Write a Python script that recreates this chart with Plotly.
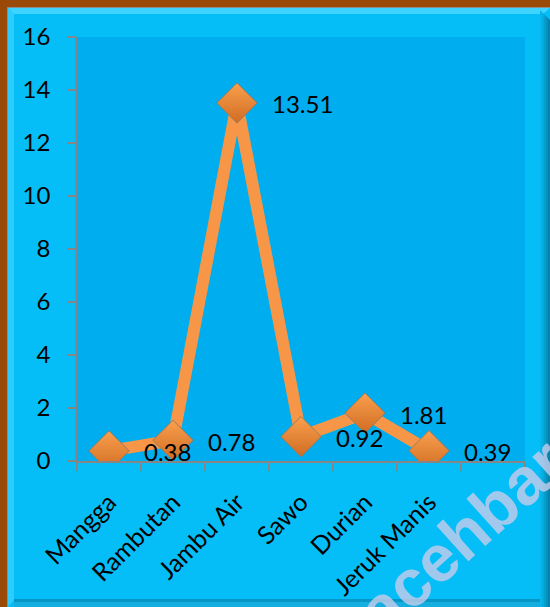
import plotly.graph_objects as go

# Data
categories = ["Mangga", "Rambutan", "Jambu Air", "Sawo", "Durian", "Jeruk Manis"]
values = [0.38, 0.78, 13.51, 0.92, 1.81, 0.39]
y_ticks = [0, 2, 4, 6, 8, 10, 12, 14, 16]
watermark = "acehbaraya"

# Geometry (pixels)
W, H = 550, 607
L, R, T, B = 77, 25, 37, 146
PW, PH = W - L - R, H - T - B


def px(x):
    return (x - L) / PW


def py(y):
    return (T + PH - y) / PH


def poly(points, color):
    d = "M " + " L ".join(f"{px(x):.5f},{py(y):.5f}" for x, y in points) + " Z"
    return dict(type="path", xref="paper", yref="paper", path=d,
                fillcolor=color, line=dict(width=0), layer="below")


def rect(x0, y0, x1, y1, color):
    return dict(type="rect", xref="paper", yref="paper",
                x0=px(x0), x1=px(x1), y0=py(y1), y1=py(y0),
                fillcolor=color, line=dict(width=0), layer="below")


shapes = [
    rect(7, 7, W + 5, H + 5, "#8c8c8c"),
    rect(8, 8, W + 5, H + 5, "#06bef7"),
    poly([(8, 8), (W, 8), (W - 7, 14), (14, 14)], "#3fd4ff"),
    poly([(8, 8), (14, 14), (14, H - 7), (8, H)], "#2cccff"),
]
# darker bevel on the right edge
right_cols = ["#05b6ee", "#04acdf", "#049fcf", "#0590bd", "#0681aa"]
for i, c in enumerate(right_cols):
    x0 = 540 + 2 * i
    shapes.append(poly([(x0, 8 + (x0 - 538)), (x0 + 2, 8 + (x0 - 536)),
                        (x0 + 2, H), (x0, H)], c))
# bottom edge
shapes.append(rect(14, 599, 540, 602, "#0796c6"))
shapes.append(rect(14, 602, 540, H + 5, "#14aee0"))
# plot area
shapes.append(rect(L, T, L + PW, T + PH, "#00adee"))

x_idx = list(range(len(categories)))

fig = go.Figure()
fig.add_trace(go.Scatter(
    x=x_idx, y=values, mode="lines+markers",
    line=dict(color="#f79646", width=12),
    marker=dict(symbol="diamond", size=31, color="#f9a04e",
                gradient=dict(type="vertical", color="#d06c22"),
                line=dict(color="#9a7a60", width=1)),
    hoverinfo="skip", showlegend=False,
))

annotations = []
for i, v in zip(x_idx, values):
    annotations.append(dict(
        x=i, y=v, xref="x", yref="y", text=f"{v:.2f}", showarrow=False,
        xanchor="left", yanchor="middle", xshift=33, yshift=-1,
        font=dict(family="Lato", size=24, color="#000000"),
    ))
annotations.append(dict(
    x=px(503), y=py(499), xref="paper", yref="paper", text=f"<b>{watermark}</b>",
    showarrow=False, textangle=-42, xanchor="center", yanchor="middle",
    font=dict(family="Arial", size=66, color="rgba(200,204,234,0.8)"),
))

axis_grey = "#868686"
fig.update_layout(
    width=W, height=H,
    margin=dict(l=L, r=R, t=T, b=B, pad=0),
    paper_bgcolor="#9a4a06",
    plot_bgcolor="rgba(0,0,0,0)",
    shapes=shapes,
    annotations=annotations,
    font=dict(family="Lato", color="#000000"),
    xaxis=dict(
        range=[-0.5, len(categories) + 0.5],
        tickmode="array", tickvals=x_idx, ticktext=categories,
        tickangle=-45, ticks="outside", ticklen=0, ticklabelstandoff=15,
        tickfont=dict(family="Lato", size=25, color="#000000"),
        minor=dict(tick0=-0.5, dtick=1, ticks="outside", ticklen=8,
                   tickcolor=axis_grey, tickwidth=1.5, showgrid=False),
        showline=True, linecolor=axis_grey, linewidth=1.5,
        showgrid=False, zeroline=False, automargin=False, fixedrange=True,
    ),
    yaxis=dict(
        range=[0, 16], tickmode="array", tickvals=y_ticks,
        ticks="outside", ticklen=8, tickcolor=axis_grey, tickwidth=1.5,
        ticklabelstandoff=12,
        tickfont=dict(family="Lato", size=24, color="#000000"),
        showline=True, linecolor=axis_grey, linewidth=1.5,
        showgrid=False, zeroline=False, automargin=False, fixedrange=True,
    ),
)

fig.write_html("out.html", config={"displayModeBar": False})
